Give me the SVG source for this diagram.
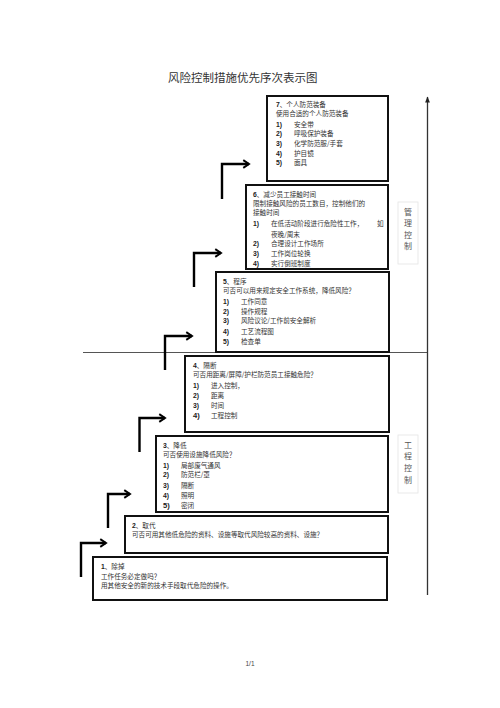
<svg xmlns="http://www.w3.org/2000/svg" width="500" height="708" viewBox="0 0 500 708">
<defs>
<marker id="ah" viewBox="0 0 10 10" refX="8" refY="5" markerWidth="4" markerHeight="4" orient="auto" markerUnits="strokeWidth">
<polyline points="2,1 8,5 2,9" fill="none" stroke="#000" stroke-width="2"/>
</marker>
<marker id="tip" viewBox="0 0 10 10" refX="9" refY="5" markerWidth="8" markerHeight="6" orient="auto" markerUnits="userSpaceOnUse">
<polygon points="0,1 10,5 0,9" fill="#222"/>
</marker>
<style>
.box{fill:#fff;stroke:#111;stroke-width:2}
.t{font-family:"Noto Sans CJK SC","Liberation Serif",serif;font-size:6.6px;fill:#333}
.n{font-family:"Liberation Sans",Arial,sans-serif;font-size:6.8px;fill:#222;font-weight:bold}
.title{font-family:"Noto Sans CJK SC",serif;font-size:11.5px;fill:#333}
.side{font-family:"Noto Sans CJK SC",serif;font-size:8px;fill:#555}
.step{fill:none;stroke:#000;stroke-width:2.4}
</style>
</defs>
<rect width="500" height="708" fill="#fff"/>
<text class="title" x="168" y="82">风险控制措施优先序次表示图</text>

<g id="connectors">
<line x1="83" y1="352.5" x2="428" y2="352.5" stroke="#555" stroke-width="1"/>
<line x1="427.5" y1="595" x2="427.5" y2="97" stroke="#333" stroke-width="1.3" marker-end="url(#tip)"/>
<polyline class="step" points="222,199 222,164 249,164" marker-end="url(#ah)"/>
<polyline class="step" points="194,287 194,253 221,253" marker-end="url(#ah)"/>
<polyline class="step" points="165,370 165,336 192,336" marker-end="url(#ah)"/>
<polyline class="step" points="139.5,452 139.5,418 165,418" marker-end="url(#ah)"/>
<polyline class="step" points="108,528 108,494 130,494" marker-end="url(#ah)"/>
<polyline class="step" points="81,577 81,543 106,543" marker-end="url(#ah)"/>
</g>

<g id="side-mgmt">
<rect x="398" y="202" width="20" height="62" fill="none" stroke="#e4e4e4" stroke-width="0.8"/>
<text class="side" x="408" y="215" text-anchor="middle">管</text>
<text class="side" x="408" y="226" text-anchor="middle">理</text>
<text class="side" x="408" y="237.5" text-anchor="middle">控</text>
<text class="side" x="408" y="248.5" text-anchor="middle">制</text>
</g>
<g id="side-eng">
<rect x="398" y="435" width="20" height="58" fill="none" stroke="#e4e4e4" stroke-width="0.8"/>
<text class="side" x="408" y="447.5" text-anchor="middle">工</text>
<text class="side" x="408" y="459" text-anchor="middle">程</text>
<text class="side" x="408" y="470.5" text-anchor="middle">控</text>
<text class="side" x="408" y="482.5" text-anchor="middle">制</text>
</g>

<g id="n7">
<rect class="box" x="267" y="96" width="121" height="85"/>
<text class="t" x="276" y="107"><tspan class="n">7</tspan>、个人防范装备</text>
<text class="t" x="276" y="116">使用合适的个人防范装备</text>
<text class="n" x="276" y="127">1)</text><text class="t" x="294" y="127">安全带</text>
<text class="n" x="276" y="136">2)</text><text class="t" x="294" y="136">呼吸保护装备</text>
<text class="n" x="276" y="145.5">3)</text><text class="t" x="294" y="145.5">化学防范服/手套</text>
<text class="n" x="276" y="155.5">4)</text><text class="t" x="294" y="155.5">护目镜</text>
<text class="n" x="276" y="165">5)</text><text class="t" x="294" y="165">面具</text>
</g>

<g id="n6">
<rect class="box" x="246" y="185" width="142" height="84"/>
<text class="t" x="253" y="197"><tspan class="n">6</tspan>、减少员工接触时间</text>
<text class="t" x="253" y="205.5">限制接触风险的员工数目，控制他们的</text>
<text class="t" x="253" y="215">接触时间</text>
<text class="n" x="253" y="226">1)</text><text class="t" x="271" y="226">在低活动阶段进行危险性工作，</text><text class="t" x="377" y="226">如</text>
<text class="t" x="271" y="237">夜晚/周末</text>
<text class="n" x="253" y="246">2)</text><text class="t" x="271" y="246">合理设计工作场所</text>
<text class="n" x="253" y="256">3)</text><text class="t" x="271" y="256">工作岗位轮换</text>
<text class="n" x="253" y="265.5">4)</text><text class="t" x="271" y="265.5">实行倒班制度</text>
</g>

<g id="n5">
<rect class="box" x="216" y="272" width="173" height="80"/>
<text class="t" x="223" y="284"><tspan class="n">5</tspan>、程序</text>
<text class="t" x="223" y="293">可否可以用来规定安全工作系统，降低风险？</text>
<text class="n" x="223" y="304">1)</text><text class="t" x="241" y="304">工作同意</text>
<text class="n" x="223" y="314">2)</text><text class="t" x="241" y="314">操作规程</text>
<text class="n" x="223" y="323">3)</text><text class="t" x="241" y="323">风险议论/工作前安全解析</text>
<text class="n" x="223" y="333.5">4)</text><text class="t" x="241" y="333.5">工艺流程图</text>
<text class="n" x="223" y="343.5">5)</text><text class="t" x="241" y="343.5">检查单</text>
</g>

<g id="n4">
<rect class="box" x="185" y="356" width="204" height="76"/>
<text class="t" x="193" y="368"><tspan class="n">4</tspan>、隔断</text>
<text class="t" x="193" y="377">可否用距离/屏障/护栏防范员工接触危险？</text>
<text class="n" x="193" y="388">1)</text><text class="t" x="211" y="388">进入控制，</text>
<text class="n" x="193" y="398">2)</text><text class="t" x="211" y="398">距离</text>
<text class="n" x="193" y="407.5">3)</text><text class="t" x="211" y="407.5">时间</text>
<text class="n" x="193" y="418" style="font-size:7.6px">4)</text><text class="t" x="211" y="418">工程控制</text>
</g>

<g id="n3">
<rect class="box" x="156" y="436" width="232" height="76"/>
<text class="t" x="163" y="448"><tspan class="n">3</tspan>、降低</text>
<text class="t" x="163" y="457">可否使用设施降低风险？</text>
<text class="n" x="163" y="467.5">1)</text><text class="t" x="181" y="467.5">局部废气通风</text>
<text class="n" x="163" y="477">2)</text><text class="t" x="181" y="477">防范栏/罩</text>
<text class="n" x="163" y="488">3)</text><text class="t" x="181" y="488">隔断</text>
<text class="n" x="163" y="498">4)</text><text class="t" x="181" y="498">照明</text>
<text class="n" x="163" y="508" style="font-size:7.6px">5)</text><text class="t" x="181" y="508">密闭</text>
</g>

<g id="n2">
<rect class="box" x="125" y="516" width="263" height="37"/>
<text class="t" x="132" y="528"><tspan class="n">2</tspan>、取代</text>
<text class="t" x="132" y="537">可否可用其他低危险的资料、设施等取代风险较高的资料、设施？</text>
</g>

<g id="n1">
<rect class="box" x="93" y="557" width="294" height="43"/>
<text class="t" x="101" y="569"><tspan class="n">1</tspan>、除掉</text>
<text class="t" x="101" y="578.5">工作任务必定做吗？</text>
<text class="t" x="101" y="588">用其他安全的新的技术手段取代危险的操作。</text>
</g>

<text x="250" y="666" text-anchor="middle" style="font-family:'Liberation Sans',sans-serif;font-size:6.5px;fill:#444">1/1</text>
</svg>
